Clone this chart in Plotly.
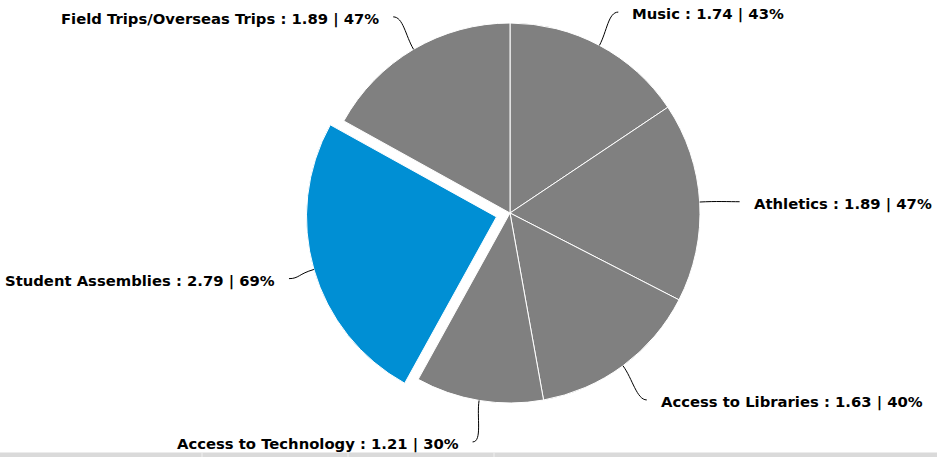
import math
import plotly.graph_objects as go

categories = ["Music", "Athletics", "Access to Libraries", "Access to Technology",
              "Student Assemblies", "Field Trips/Overseas Trips"]
values = [1.74, 1.89, 1.63, 1.21, 2.79, 1.89]
percents = [43, 47, 40, 30, 69, 47]
highlight = "Student Assemblies"

W, H = 939, 457
CX, CY = 510, 213          # pie centre in px (from top)
R = 190                    # pie radius in px
PULL = 0.074
GRAY = "#808080"
BLUE = "#008FD4"

pulls = [PULL if c == highlight else 0 for c in categories]
colors = [BLUE if c == highlight else GRAY for c in categories]

half = R * (1 + PULL)
fig = go.Figure(go.Pie(
    labels=categories, values=values, sort=False, direction="clockwise", rotation=0,
    pull=pulls, marker=dict(colors=colors, line=dict(color="white", width=1)),
    textinfo="none", hoverinfo="label+value", showlegend=False,
    domain=dict(x=[(CX - half) / W, (CX + half) / W],
                y=[(H - CY - half) / H, (H - CY + half) / H]),
))

def px2paper(x, y):
    return x / W, (H - y) / H

total = sum(values)
cum = 0
shapes = []
annotations = []
for c, v, p, pl in zip(categories, values, percents, pulls):
    a0 = cum / total * 2 * math.pi
    cum += v
    a1 = cum / total * 2 * math.pi
    am = (a0 + a1) / 2
    dx, dy = math.sin(am), -math.cos(am)
    ox, oy = CX + dx * pl * R, CY + dy * pl * R
    P = (ox + dx * R, oy + dy * R)
    E = (CX + dx * (R + 40), CY + dy * (R + 40) + 2)
    s = 1 if dx >= 0 else -1
    c1 = (E[0] - s * 10, E[1])
    c2 = (P[0] + dx * 16, P[1] + dy * 16)
    pts = [px2paper(*q) for q in (P, c2, c1, E)]
    path = "M {:.5f},{:.5f} C {:.5f},{:.5f} {:.5f},{:.5f} {:.5f},{:.5f}".format(
        *[coord for q in pts for coord in q])
    shapes.append(dict(type="path", xref="paper", yref="paper", path=path,
                       line=dict(color="#000000", width=1)))
    tx, ty = px2paper(E[0] + s * 12, E[1] + 2)
    annotations.append(dict(
        x=tx, y=ty, xref="paper", yref="paper", showarrow=False,
        xanchor="left" if s > 0 else "right", yanchor="middle",
        text="{} : {:.2f} | {}%".format(c, v, p),
        font=dict(family="DejaVu Sans", size=14.8, color="#000000", weight=700)))

# bottom border band
shapes.append(dict(type="rect", xref="paper", yref="paper",
                   x0=0, x1=937 / W, y0=0, y1=4.5 / H,
                   fillcolor="#dadada", line=dict(width=0)))
for bx in [202, 348, 494]:
    shapes.append(dict(type="line", xref="paper", yref="paper",
                       x0=bx / W, x1=bx / W, y0=0, y1=4.5 / H,
                       line=dict(color="#f0f0f0", width=1)))

fig.update_layout(width=W, height=H, margin=dict(l=0, r=0, t=0, b=0),
                  paper_bgcolor="white", plot_bgcolor="white",
                  shapes=shapes, annotations=annotations)
fig.write_html("out.html", config={"displayModeBar": False},
               post_script="document.body.style.margin='0px';")
